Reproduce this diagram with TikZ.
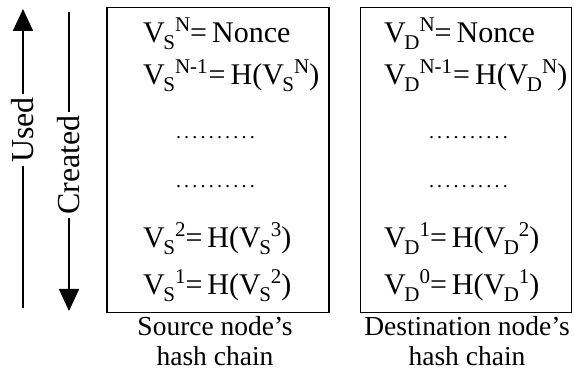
\documentclass[tikz,border=0pt]{standalone}
\usepackage{fontspec}
\setmainfont{Liberation Serif}
\usetikzlibrary{positioning,arrows.meta}

% V with a lowered index and a raised index, one after the other
\newcommand{\hv}[2]{V\kern-1.5pt\raisebox{-7pt}{\fontsize{21}{21}\selectfont #1}\raisebox{11pt}{\fontsize{21}{21}\selectfont #2}}
\newcommand{\hdots}{\foreach \i in {1,...,10}{.\kern3.2pt}}

\begin{document}
\begin{tikzpicture}[x=1pt, y=-1pt,
  chainbox/.style={draw, line width=1.8pt, inner sep=0pt},
  row/.style={anchor=base west, inner sep=0pt, font=\fontsize{30}{32}\selectfont},
  dotrow/.style={anchor=base, inner sep=0pt, font=\fontsize{20}{20}\selectfont},
  caption/.style={anchor=base, inner sep=0pt, font=\fontsize{27.5}{30}\selectfont},
  side/.style={rotate=90, fill=white, inner sep=3pt, font=\fontsize{32}{34}\selectfont},
  arr/.style={-{Triangle[length=22pt, width=20pt]}, line width=1.8pt}
]
  \useasboundingbox (0,0) rectangle (574,377);

  % the two hash chains
  \node[chainbox, minimum width=222pt, minimum height=305pt] (src) at (218,160) {};
  \node[chainbox, minimum width=211pt, minimum height=305pt] (dst) at (466,160) {};

  \node[row] (sN)  at (143,43)  {\hv{S}{N}=\,Nonce};
  \node[row] (sN1) at (143,85)  {\hv{S}{N-1}\kern1pt=\,H(\hv{S}{N})};
  \node[dotrow] (sdA) at (217,139) {\hdots};
  \node[dotrow] (sdB) at (217,188) {\hdots};
  \node[row] (s2)  at (143,248) {\hv{S}{2}=\,H(\hv{S}{3})};
  \node[row] (s1)  at (143,295) {\hv{S}{1}=\,H(\hv{S}{2})};

  \node[row] (dN)  at (384,43)  {\hv{D}{N}=\,Nonce};
  \node[row] (dN1) at (384,85)  {\hv{D}{N-1}\kern1pt=\,H(\hv{D}{N})};
  \node[dotrow] (ddA) at (470,139) {\hdots};
  \node[dotrow] (ddB) at (470,188) {\hdots};
  \node[row] (d1)  at (384,248) {\hv{D}{1}=\,H(\hv{D}{2})};
  \node[row] (d0)  at (384,295) {\hv{D}{0}=\,H(\hv{D}{1})};

  \node[caption] (scap1) at (215,336) {Source node's};
  \node[caption] (scap2) at (215,366) {hash chain};
  \node[caption] (dcap1) at (467,336) {Destination node's};
  \node[caption] (dcap2) at (467,366) {hash chain};

  % order of use and of creation
  \coordinate (usedbot) at (23,308);
  \coordinate (usedtop) at (23,9);
  \coordinate (madetop) at (69,12);
  \coordinate (madebot) at (69,311);
  \draw[arr] (usedbot) -- node[side, pos=0.595] (used) {Used} (usedtop);
  \draw[arr] (madetop) -- node[side, pos=0.512] (made) {Created} (madebot);
\end{tikzpicture}
\end{document}
